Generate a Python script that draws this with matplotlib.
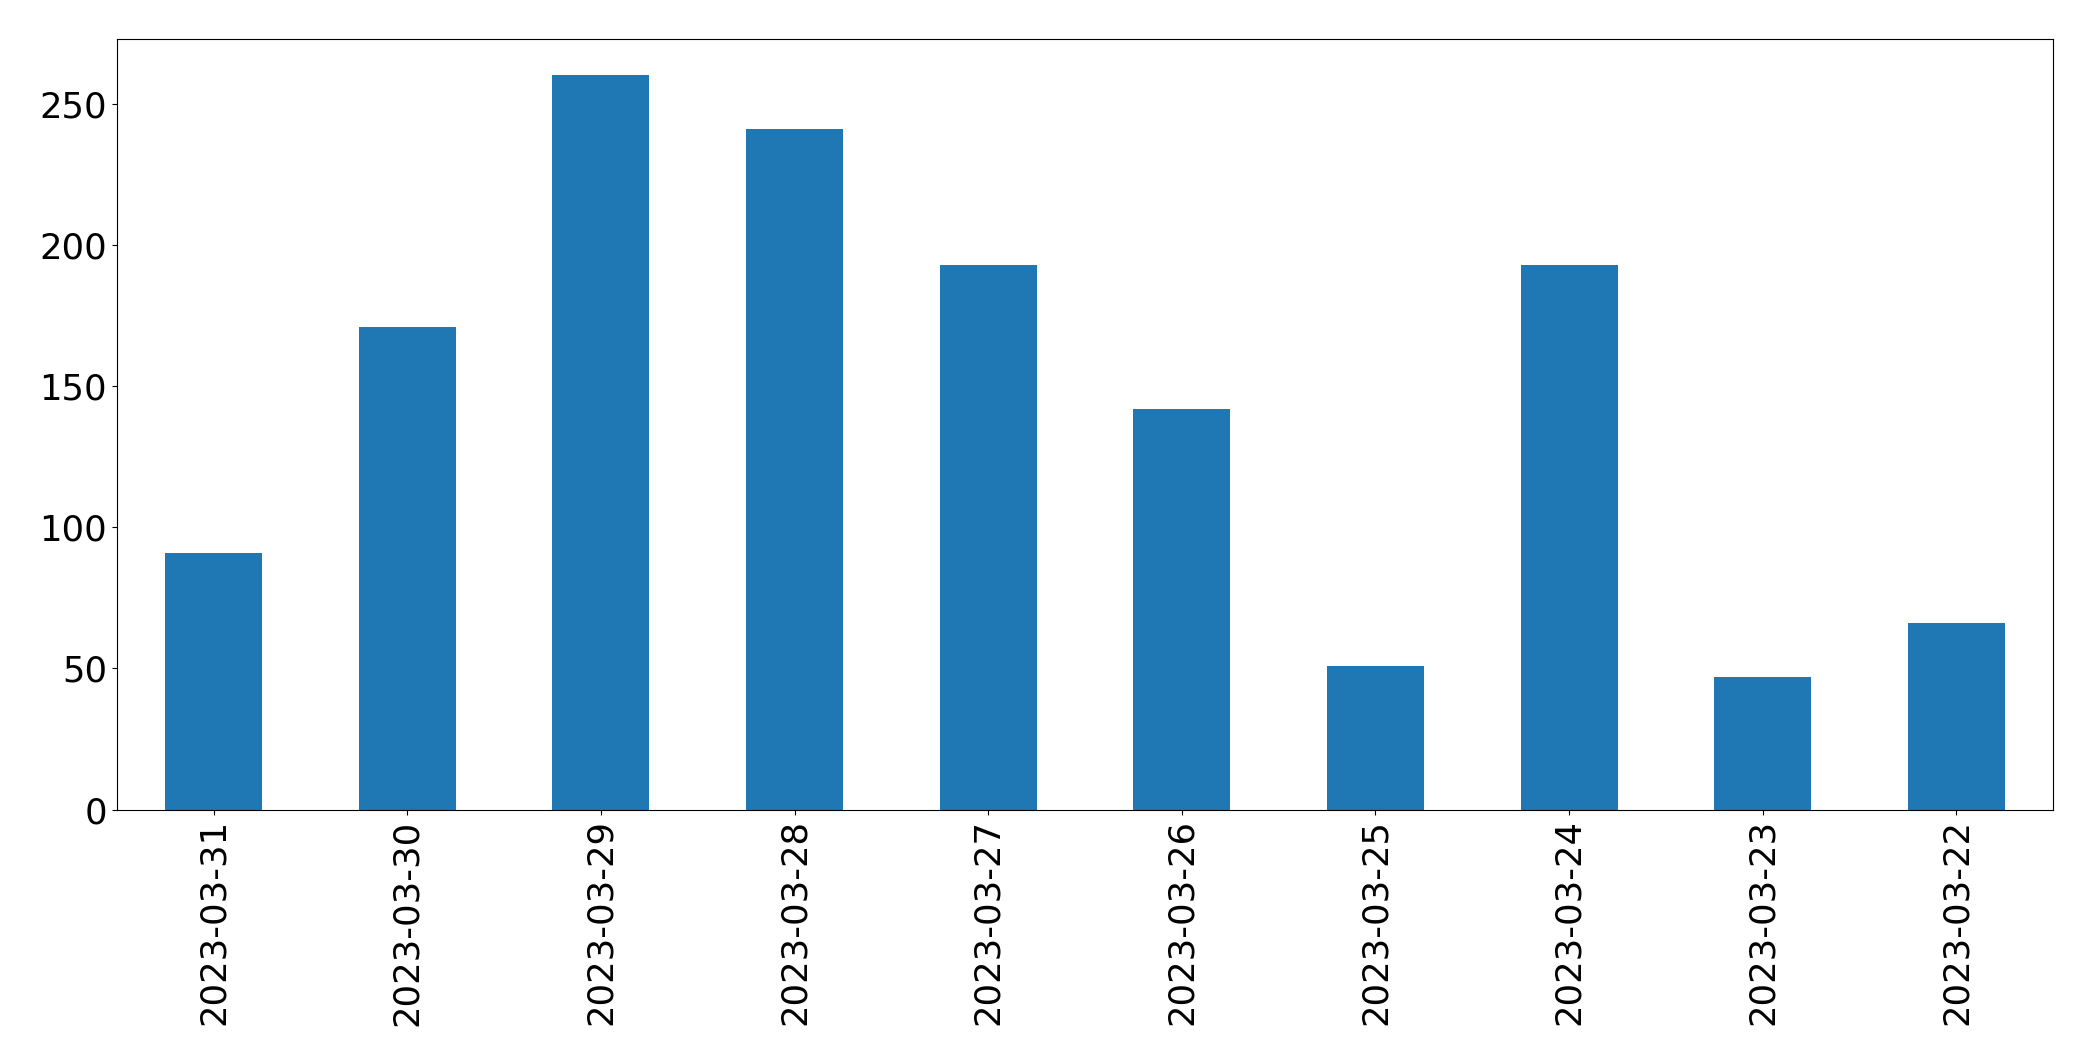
import matplotlib
matplotlib.use("Agg")
import matplotlib.pyplot as plt

# daily counts, newest first (as in the original)
dates = ["2023-03-31", "2023-03-30", "2023-03-29", "2023-03-28", "2023-03-27",
         "2023-03-26", "2023-03-25", "2023-03-24", "2023-03-23", "2023-03-22"]
counts = [91, 171, 260, 241, 193, 142, 51, 193, 47, 66]

fig = plt.figure(figsize=(20.93, 10.61), dpi=100)
ax = fig.add_axes([0.0558, 0.237, 0.9252, 0.7265])

x = range(len(dates))
ax.bar(x, counts, width=0.5, color="#1f77b4")
ax.set_xlim(-0.5, len(dates) - 0.5)
ax.set_ylim(0, max(counts) * 1.05)
ax.set_xticks(list(x))
ax.set_xticklabels(dates, rotation=90)
ax.tick_params(axis="both", labelsize=25.5)

fig.savefig("out.png", dpi=100)
